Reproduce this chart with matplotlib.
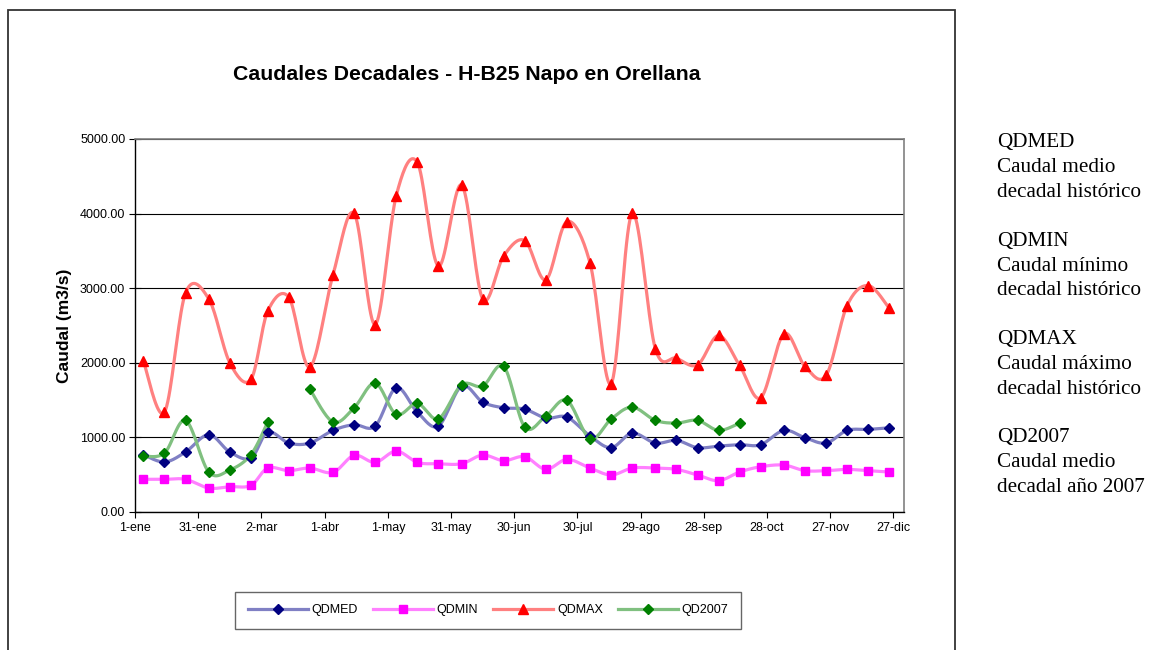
import datetime
import numpy as np
import matplotlib
matplotlib.use("Agg")
import matplotlib.pyplot as plt
from matplotlib.patches import Rectangle
from matplotlib.lines import Line2D

# fechas de las decadas (dia 5, 15 y 25 de cada mes, 2007)
months = list(range(1, 13))
decade_days = [5, 15, 25]

qdmed = [768, 670, 804, 1036, 804, 723, 1071, 924, 924, 1094, 1170, 1152,
         1665, 1339, 1152, 1687, 1473, 1397, 1379, 1259, 1272, 1018, 862, 1058,
         924, 960, 862, 884, 902, 902, 1094, 996, 924, 1094, 1107, 1129]
qdmin = [438, 438, 438, 321, 339, 357, 589, 554, 589, 531, 759, 665,
         817, 665, 647, 647, 763, 688, 741, 571, 705, 589, 496, 589,
         589, 571, 496, 420, 536, 607, 629, 554, 554, 571, 554, 536]
qdmax = [2020, 1339, 2937, 2857, 2000, 1777, 2692, 2879, 1942, 3183, 4004, 2513,
         4241, 4687, 3295, 4384, 2857, 3433, 3638, 3112, 3893, 3335, 1719, 4004,
         2187, 2062, 1973, 2366, 1964, 1531, 2388, 1951, 1830, 2768, 3036, 2732]
nan = float("nan")
qd2007 = [750, 790, 1228, 536, 563, 768, 1205, nan, 1647, 1205, 1397, 1728,
          1308, 1455, 1250, 1705, 1687, 1951, 1138, 1286, 1496, 982, 1246, 1406,
          1228, 1192, 1228, 1094, 1192, nan, nan, nan, nan, nan, nan, nan]

tick_labels = ["1-ene", "31-ene", "2-mar", "1-abr", "1-may", "31-may", "30-jun",
               "30-jul", "29-ago", "28-sep", "28-oct", "27-nov", "27-dic"]

notes = [("QDMED", "Caudal medio", "decadal histórico"),
         ("QDMIN", "Caudal mínimo", "decadal histórico"),
         ("QDMAX", "Caudal máximo", "decadal histórico"),
         ("QD2007", "Caudal medio", "decadal año 2007")]

# dias desde el 1-ene
x = []
for m in months:
    for d in decade_days:
        x.append(datetime.date(2007, m, d).timetuple().tm_yday - 1)
x = np.array(x, dtype=float)


def smooth(xv, yv, n=20):
    # curva suavizada tipo Excel (Catmull-Rom) por tramos sin huecos
    xv = np.asarray(xv, dtype=float)
    yv = np.asarray(yv, dtype=float)
    pieces = []
    ok = ~np.isnan(yv)
    idx = np.where(ok)[0]
    runs = np.split(idx, np.where(np.diff(idx) != 1)[0] + 1)
    for r in runs:
        if len(r) < 2:
            continue
        px = xv[r]
        py = yv[r]
        sx, sy = [], []
        for i in range(len(r) - 1):
            x0 = px[i - 1] if i > 0 else px[i]
            y0 = py[i - 1] if i > 0 else py[i]
            x3 = px[i + 2] if i + 2 < len(r) else px[i + 1]
            y3 = py[i + 2] if i + 2 < len(r) else py[i + 1]
            c1x = px[i] + (px[i + 1] - x0) / 6
            c1y = py[i] + (py[i + 1] - y0) / 6
            c2x = px[i + 1] - (x3 - px[i]) / 6
            c2y = py[i + 1] - (y3 - py[i]) / 6
            t = np.linspace(0, 1, n)
            b0 = (1 - t) ** 3
            b1 = 3 * (1 - t) ** 2 * t
            b2 = 3 * (1 - t) * t ** 2
            b3 = t ** 3
            sx.extend(b0 * px[i] + b1 * c1x + b2 * c2x + b3 * px[i + 1])
            sy.extend(b0 * py[i] + b1 * c1y + b2 * c2y + b3 * py[i + 1])
        pieces.append((sx, sy))
    return pieces


plt.rcParams["font.family"] = ["Liberation Sans", "DejaVu Sans"]

fig = plt.figure(figsize=(11.65, 6.5), dpi=100)
ax = fig.add_axes([135 / 1165, 1 - 512 / 650, (904 - 135) / 1165, (512 - 139) / 650])

series = [
    ("QDMED", qdmed, "#8080c4", "#000080", "D", 5.5),
    ("QDMIN", qdmin, "#ff80ff", "#ff00ff", "s", 6),
    ("QDMAX", qdmax, "#ff8080", "#ff0000", "^", 7.5),
    ("QD2007", qd2007, "#80c080", "#008000", "D", 5.5),
]

handles = []
for name, vals, lc, mc, mk, ms in series:
    for sx, sy in smooth(x, vals):
        ax.plot(sx, sy, color=lc, lw=2.3, zorder=3, solid_capstyle="round")
    ax.plot(x, vals, linestyle="none", marker=mk, ms=ms, mfc=mc, mec=mc, zorder=4)
    handles.append(Line2D([], [], color=lc, lw=2.3, marker=mk, ms=ms, mfc=mc, mec=mc, label=name))

ax.set_xlim(0, 365)
ax.set_ylim(0, 5000)
ax.set_xticks(np.arange(0, 361, 30))
ax.set_xticklabels(tick_labels)
ax.set_yticks(np.arange(0, 5001, 1000))
ax.set_yticklabels(["%.2f" % v for v in np.arange(0, 5001, 1000)])
ax.tick_params(axis="x", direction="out", length=4, labelsize=9, pad=3)
ax.tick_params(axis="y", direction="inout", length=8, labelsize=9, pad=3)
ax.grid(axis="y", color="black", lw=0.8)
ax.set_axisbelow(True)
for s in ["top", "right"]:
    ax.spines[s].set_color("#808080")
    ax.spines[s].set_linewidth(1.2)
for s in ["left", "bottom"]:
    ax.spines[s].set_color("black")
    ax.spines[s].set_linewidth(1)

ax.set_ylabel("Caudal (m3/s)", fontsize=12.5, fontweight="bold", labelpad=6)
fig.text(467 / 1165, 1 - 75 / 650, "Caudales Decadales - H-B25 Napo en Orellana",
         ha="center", va="center", fontsize=15.3, fontweight="bold")

fig.legend(handles=handles, loc="center", bbox_to_anchor=(488 / 1165, 1 - 610 / 650),
           ncol=4, fontsize=9, handlelength=4.8, columnspacing=1.2, handletextpad=0.3,
           frameon=True, fancybox=False, edgecolor="#404040", borderpad=1.0)

# marco exterior del grafico
fig.add_artist(Rectangle((8 / 1165, -0.05), (955 - 8) / 1165, 1.05 - 10 / 650,
                         transform=fig.transFigure, fill=False, edgecolor="#333333", lw=1.3))

# notas a la derecha
for g, lines in enumerate(notes):
    for k, txt in enumerate(lines):
        yy = 143 + g * 98.3 + k * 24.8
        fig.text(997 / 1165, 1 - yy / 650, txt, ha="left", va="center",
                 fontsize=15.2, family=["Liberation Serif", "DejaVu Serif"])

fig.savefig("out.png", dpi=100)
